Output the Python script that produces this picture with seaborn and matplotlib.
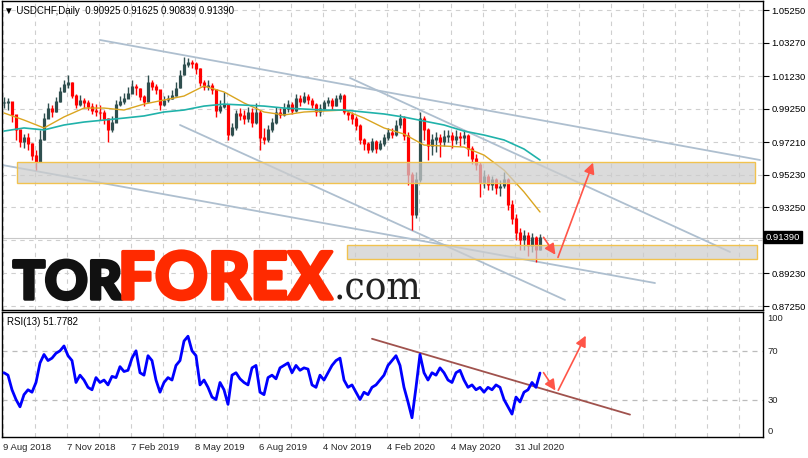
import numpy as np
import matplotlib
matplotlib.use('Agg')
import matplotlib.pyplot as plt
import matplotlib.patheffects as pe
from matplotlib.patches import Rectangle
import seaborn as sns
import pandas as pd

# USDCHF daily, one candle per 4 bars
closes = [0.9960, 0.9966, 0.9887, 0.9796, 0.9723, 0.9747, 0.9716, 0.9643, 0.9601, 0.9735,
          0.9868, 0.9929, 0.9905, 0.9966, 1.0027, 1.0075, 1.0087, 1.0008, 0.9953, 0.9978,
          0.9960, 0.9941, 0.9917, 0.9905, 0.9899, 0.9868, 0.9796, 0.9844, 0.9953, 0.9966,
          0.9990, 1.0020, 1.0063, 1.0051, 1.0002, 0.9966, 1.0087, 1.0063, 1.0039, 0.9953,
          0.9978, 0.9990, 1.0008, 1.0051, 1.0130, 1.0191, 1.0209, 1.0197, 1.0172, 1.0087,
          1.0063, 1.0069, 1.0039, 0.9917, 0.9941, 0.9953, 0.9771, 0.9808, 0.9893, 0.9881,
          0.9868, 0.9905, 0.9844, 0.9905, 0.9747, 0.9735, 0.9796, 0.9844, 0.9905, 0.9887,
          0.9929, 0.9953, 0.9917, 0.9990, 0.9966, 1.0002, 0.9978, 0.9953, 0.9905, 0.9929,
          0.9960, 0.9978, 0.9947, 0.9990, 1.0008, 0.9905, 0.9887, 0.9868, 0.9820, 0.9735,
          0.9711, 0.9674, 0.9723, 0.9686, 0.9711, 0.9747, 0.9783, 0.9771, 0.9826, 0.9868,
          0.9765, 0.9522, 0.9279, 0.9492, 0.9868, 0.9796, 0.9704, 0.9735, 0.9747, 0.9723,
          0.9759, 0.9765, 0.9735, 0.9759, 0.9747, 0.9765, 0.9686, 0.9625, 0.9583, 0.9479,
          0.9515, 0.9467, 0.9492, 0.9443, 0.9455, 0.9492, 0.9340, 0.9260, 0.9175, 0.9127,
          0.9157, 0.9091, 0.9140, 0.9066, 0.9139]

highs = [0.9996, 0.9990, 0.9941, 0.9856, 0.9771, 0.9771, 0.9777, 0.9704, 0.9674, 0.9796,
         0.9899, 0.9960, 0.9947, 0.9996, 1.0057, 1.0099, 1.0130, 1.0087, 1.0014, 1.0008,
         0.9990, 0.9978, 0.9960, 0.9953, 0.9947, 0.9917, 0.9868, 0.9881, 0.9978, 1.0002,
         1.0020, 1.0057, 1.0099, 1.0075, 1.0051, 1.0008, 1.0130, 1.0099, 1.0075, 1.0039,
         1.0002, 1.0008, 1.0039, 1.0087, 1.0160, 1.0239, 1.0233, 1.0221, 1.0209, 1.0172,
         1.0099, 1.0099, 1.0081, 1.0039, 0.9978, 1.0027, 0.9953, 0.9838, 0.9917, 0.9929,
         0.9917, 0.9935, 0.9929, 0.9960, 0.9917, 0.9808, 0.9826, 0.9868, 0.9935, 0.9929,
         0.9960, 0.9978, 0.9966, 1.0014, 1.0008, 1.0027, 1.0014, 0.9990, 0.9960, 0.9953,
         0.9978, 0.9996, 0.9990, 1.0008, 1.0020, 1.0014, 0.9917, 0.9905, 0.9881, 0.9832,
         0.9747, 0.9723, 0.9747, 0.9735, 0.9735, 0.9771, 0.9808, 0.9808, 0.9856, 0.9893,
         0.9881, 0.9783, 0.9540, 0.9540, 0.9905, 0.9881, 0.9808, 0.9771, 0.9783, 0.9771,
         0.9796, 0.9796, 0.9783, 0.9796, 0.9783, 0.9796, 0.9771, 0.9698, 0.9650, 0.9601,
         0.9552, 0.9528, 0.9516, 0.9504, 0.9492, 0.9540, 0.9504, 0.9370, 0.9285, 0.9200,
         0.9187, 0.9175, 0.9169, 0.9151, 0.91625]

lows = [0.9929, 0.9917, 0.9844, 0.9735, 0.9692, 0.9686, 0.9674, 0.9613, 0.9552, 0.9601,
        0.9735, 0.9868, 0.9875, 0.9905, 0.9966, 1.0027, 1.0051, 0.9990, 0.9929, 0.9941,
        0.9929, 0.9917, 0.9893, 0.9881, 0.9856, 0.9832, 0.9723, 0.9783, 0.9844, 0.9941,
        0.9953, 0.9990, 1.0020, 1.0008, 0.9978, 0.9941, 0.9966, 1.0039, 1.0014, 0.9917,
        0.9941, 0.9966, 0.9984, 1.0002, 1.0051, 1.0130, 1.0178, 1.0172, 1.0136, 1.0063,
        1.0039, 1.0039, 1.0014, 0.9875, 0.9899, 0.9929, 0.9735, 0.9759, 0.9796, 0.9856,
        0.9832, 0.9844, 0.9814, 0.9832, 0.9674, 0.9711, 0.9723, 0.9783, 0.9832, 0.9868,
        0.9881, 0.9905, 0.9893, 0.9905, 0.9941, 0.9960, 0.9953, 0.9929, 0.9881, 0.9881,
        0.9917, 0.9941, 0.9917, 0.9941, 0.9966, 0.9893, 0.9856, 0.9832, 0.9796, 0.9711,
        0.9674, 0.9656, 0.9662, 0.9656, 0.9674, 0.9698, 0.9735, 0.9747, 0.9759, 0.9808,
        0.9735, 0.9461, 0.9187, 0.9260, 0.9479, 0.9735, 0.9613, 0.9643, 0.9662, 0.9631,
        0.9698, 0.9723, 0.9686, 0.9711, 0.9698, 0.9711, 0.9637, 0.9589, 0.9552, 0.9388,
        0.9443, 0.9431, 0.9431, 0.9406, 0.9394, 0.9443, 0.9309, 0.9224, 0.9127, 0.9066,
        0.9066, 0.9029, 0.9054, 0.8993, 0.90839]

# moving averages, every 5th candle + last one
ma_fast = [0.9899, 0.9856, 0.9808, 0.9875, 0.9929, 0.9929, 0.9917, 0.9953, 0.9978, 1.0002,
           1.0063, 1.0027, 0.9960, 0.9905, 0.9887, 0.9905, 0.9911, 0.9917, 0.9868, 0.9808,
           0.9771, 0.9704, 0.9698, 0.9692, 0.9643, 0.9552, 0.9419, 0.9297]
ma_slow = [0.9789, 0.9808, 0.9796, 0.9826, 0.9844, 0.9856, 0.9868, 0.9881, 0.9905, 0.9917,
           0.9941, 0.9953, 0.9947, 0.9941, 0.9929, 0.9923, 0.9917, 0.9917, 0.9905, 0.9893,
           0.9874, 0.9850, 0.9826, 0.9789, 0.9765, 0.9735, 0.9680, 0.9613]

rsi = [52, 50, 38, 30, 24, 34, 38, 36, 44, 60,
       67, 62, 64, 68, 70, 74, 66, 62, 44, 50,
       46, 40, 38, 48, 44, 46, 42, 49, 48, 57,
       53, 54, 64, 70, 52, 50, 66, 62, 46, 36,
       44, 48, 46, 58, 62, 78, 82, 70, 66, 42,
       46, 40, 32, 30, 44, 38, 26, 50, 52, 47,
       44, 42, 56, 58, 36, 34, 48, 50, 47, 56,
       58, 60, 52, 58, 54, 56, 55, 42, 40, 50,
       46, 52, 58, 62, 64, 46, 40, 42, 36, 30,
       36, 34, 40, 42, 46, 50, 58, 62, 66, 58,
       40, 28, 15, 40, 67, 52, 46, 52, 50, 56,
       52, 46, 44, 52, 54, 46, 40, 42, 38, 40,
       36, 40, 38, 42, 40, 30, 24, 18, 32, 28,
       36, 38, 44, 40, 51.78]

price_ticks = [1.0525, 1.0327, 1.0123, 0.9925, 0.9721, 0.9523, 0.9325, 0.9127, 0.8923, 0.8725]
date_labels = ['9 Aug 2018', '7 Nov 2018', '7 Feb 2019', '8 May 2019', '6 Aug 2019',
               '4 Nov 2019', '4 Feb 2020', '4 May 2020', '31 Jul 2020']
last_price = 0.9139

# support / resistance zones (price low, price high, first bar, last bar)
zones = [(0.9474, 0.9601, 17, 755), (0.9011, 0.9096, 347, 757)]
# trend lines (bar, price) -> (bar, price)
trend_lines = [((100, 1.0343), (760, 0.9613)),
               ((350, 1.0112), (730, 0.9054)),
               ((180, 0.9826), (565, 0.8762)),
               ((2, 0.9583), (655, 0.8865))]

sns.set_style('white')
plt.rcParams['font.family'] = ['Liberation Sans', 'DejaVu Sans']

W, H = 808, 458
fig = plt.figure(figsize=(W / 100, H / 100), dpi=100)


def fx(px):
    return px / W


def fy(py):
    return 1 - py / H


ax = fig.add_axes([fx(2), fy(310), fx(761), 309 / H])
ax2 = fig.add_axes([fx(2), fy(437), fx(761), 125 / H])

df = pd.DataFrame({'close': closes, 'high': highs, 'low': lows})
df['bar'] = 4 + 4 * np.arange(len(df))
df['open'] = df['close'].shift(1).fillna(df['close'])
df['up'] = df['close'] >= df['open']

grid_kw = dict(color='#cfcfcf', lw=0.8, dashes=(4, 4), zorder=0)
for p in price_ticks:
    ax.axhline(p, **grid_kw)
for gx in range(3, 763, 32):
    ax.axvline(gx, **grid_kw)
    ax2.axvline(gx, **grid_kw)
for lv in (70, 30):
    ax2.axhline(lv, color='#bbbbbb', lw=0.9, dashes=(4, 4), zorder=0)

ax.axhline(last_price, color='#c8c8c8', lw=0.8, zorder=1)

for (x0, y0), (x1, y1) in trend_lines:
    ax.plot([x0, x1], [y0, y1], color='#aebfcf', lw=1.3, zorder=2)

cols = np.where(df['up'], '#2f4f4f', '#ff0000')
body_lo = np.minimum(df['open'], df['close'])
body_hi = np.maximum(df['open'], df['close'])
ax.vlines(df['bar'], np.minimum(df['low'], body_lo), np.maximum(df['high'], body_hi),
          colors=cols, lw=1.0, zorder=3)
ax.vlines(df['bar'], body_lo - 0.0003, body_hi + 0.0003, colors=cols, lw=2.3, zorder=3)

ma_idx = list(range(0, len(closes), 5)) + [len(closes) - 1]
ma_bars = df['bar'].values[ma_idx]
sns.lineplot(x=ma_bars, y=ma_fast, ax=ax, color='#daa520', lw=1.0, zorder=4)
sns.lineplot(x=ma_bars, y=ma_slow, ax=ax, color='#20b2aa', lw=1.2, zorder=4)

for p0, p1, b0, b1 in zones:
    ax.add_patch(Rectangle((b0, p0), b1 - b0, p1 - p0, fc='#cdcdcd', alpha=0.72,
                           ec='none', zorder=5))
    ax.add_patch(Rectangle((b0, p0), b1 - b0, p1 - p0, fc='none',
                           ec='#f1c24f', lw=1.0, zorder=6))

arrow_kw = dict(arrowstyle='-|>', color='#ff5548', lw=1.2, mutation_scale=16)
ax.annotate('', xy=(557, 0.9023), xytext=(542, 0.9157), arrowprops=arrow_kw, zorder=7)
ax.annotate('', xy=(594, 0.9613), xytext=(557, 0.9005), arrowprops=arrow_kw, zorder=7)

ax.set_xlim(2, 763)
ax.set_ylim(0.8701, 1.0580)
ax.yaxis.tick_right()
ax.set_yticks(price_ticks)
ax.set_yticklabels(['%.5f' % p if abs(p - 0.9127) > 1e-6 else '' for p in price_ticks])
ax.tick_params(axis='y', length=4, width=0.8, pad=2, labelsize=6.8, colors='black')
ax.set_xticks([])

# RSI panel
rsi_bars = df['bar'].values
ax2.plot([372, 630], [79.9, 17.6], color='#a0524d', lw=1.3, zorder=2)
sns.lineplot(x=rsi_bars, y=rsi, ax=ax2, color='#0000ff', lw=2.0, zorder=3)
ax2.annotate('', xy=(557, 35.5), xytext=(542, 54), arrowprops=arrow_kw, zorder=7)
ax2.annotate('', xy=(587, 84.5), xytext=(557, 35.5), arrowprops=arrow_kw, zorder=7)
ax2.set_xlim(2, 763)
ax2.set_ylim(-0.8, 101.9)
ax2.yaxis.tick_right()
ax2.set_yticks([100, 70, 30, 0])
ax2.set_yticklabels(['100', '70', '30', '0'])
ax2.tick_params(axis='y', length=0, pad=3, labelsize=6.8)
ylabs = ax2.get_yticklabels()
ylabs[0].set_va('top')
ylabs[3].set_va('bottom')
ax2.set_xticks([3 + 64 * k for k in range(len(date_labels))])
ax2.set_xticklabels(date_labels, ha='left')
ax2.tick_params(axis='x', length=3, width=0.8, pad=1, labelsize=6.8, direction='out')

for a in (ax, ax2):
    a.set_xlabel('')
    a.set_ylabel('')
    for s in a.spines.values():
        s.set_color('black')
        s.set_linewidth(1.0)

# header texts
fig.text(fx(4), fy(11), '\u25bc USDCHF,Daily  0.90925 0.91625 0.90839 0.91390',
         fontsize=7, va='center', color='black')
fig.text(fx(7), fy(322), 'RSI(13) 51.7782', fontsize=7, va='center', color='black')
fig.text(fx(766), fy(237), '0.91390', fontsize=6.8, va='center', color='white',
         bbox=dict(boxstyle='square,pad=0.2', fc='black', ec='black'))

# watermark logo, stroked to look heavier
fig.text(fx(13), fy(299), 'TOR', fontsize=38, fontweight='black', family='Lato',
         color='#111111', va='baseline',
         path_effects=[pe.withStroke(linewidth=2.5, foreground='#111111')])
fig.text(fx(118), fy(299), 'FOREX', fontsize=47, fontweight='black', family='Lato',
         color='#ff2a00', va='baseline',
         path_effects=[pe.withStroke(linewidth=2.5, foreground='#ff2a00')])
fig.text(fx(334), fy(299), '.com', fontsize=29, family='DejaVu Serif', stretch='condensed',
         color='#222222', va='baseline')

fig.savefig('out.png', dpi=100, facecolor='white')
